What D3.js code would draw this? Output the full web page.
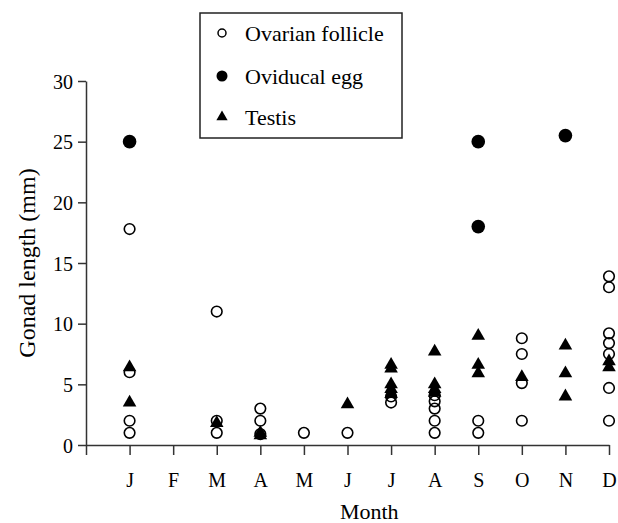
<!DOCTYPE html>
<html>
<head>
<meta charset="utf-8">
<script src="https://cdn.jsdelivr.net/npm/d3@7"></script>
<style>
  html, body { margin: 0; padding: 0; background: #fff; }
  svg { display: block; }
  text { font-family: "Liberation Serif", "Times New Roman", serif; fill: #000; }
</style>
</head>
<body>
<svg id="chart" width="618" height="523"></svg>
<script>
// Month index (1 = January ... 12 = December) and gonad length in mm
const monthLabels = ["J", "F", "M", "A", "M", "J", "J", "A", "S", "O", "N", "D"];
const yTicks = [0, 5, 10, 15, 20, 25, 30];

const follicleMonth = [1, 1, 1, 1, 3, 3, 3, 4, 4, 4, 5, 6, 7, 7, 8, 8, 8, 8, 8, 9, 9, 10, 10, 10, 10, 12, 12, 12, 12, 12, 12, 12];
const follicleLen   = [17.8, 6.0, 2.0, 1.0, 11.0, 2.0, 1.0, 3.0, 2.0, 0.9, 1.0, 1.0, 4.0, 3.5, 4.1, 3.6, 3.0, 2.0, 1.0, 2.0, 1.0, 8.8, 7.5, 5.1, 2.0, 13.9, 13.0, 9.2, 8.4, 7.5, 4.7, 2.0];

const eggMonth = [1, 9, 9, 11];
const eggLen   = [25.0, 25.0, 18.0, 25.5];

const testisMonth = [1, 1, 3, 4, 4, 6, 7, 7, 7, 7, 7, 8, 8, 8, 8, 9, 9, 9, 10, 11, 11, 11, 12, 12];
const testisLen   = [6.4, 3.5, 1.8, 1.0, 0.8, 3.35, 6.6, 6.3, 5.0, 4.6, 4.2, 7.7, 5.0, 4.6, 4.3, 9.0, 6.6, 5.9, 5.6, 8.2, 5.9, 4.0, 6.9, 6.4];

const legendLabels = ["Ovarian follicle", "Oviducal egg", "Testis"];

const svg = d3.select("#chart");

const x = d3.scaleLinear().domain([0, 12]).range([86, 609]);
const y = d3.scaleLinear().domain([0, 30]).range([445, 81]);

// Axes
const yAxis = d3.axisLeft(y).tickValues(yTicks).tickSize(8).tickPadding(5).tickSizeOuter(0);
const gy = svg.append("g").attr("transform", `translate(${x(0)},0)`).call(yAxis);
gy.selectAll("text").style("font-size", "20px").attr("dy", "0.35em");

const xAxis = d3.axisBottom(x)
  .tickValues(d3.range(0, 13))
  .tickSize(10)
  .tickPadding(18)
  .tickSizeOuter(0)
  .tickFormat(d => d === 0 ? "" : monthLabels[d - 1]);
const gx = svg.append("g").attr("transform", `translate(0,${y(0)})`).call(xAxis);
gx.selectAll("text").style("font-size", "20px");

svg.selectAll(".domain, .tick line").attr("stroke", "#333").attr("stroke-width", 1.5);
svg.selectAll(".tick text").attr("fill", "#000");

// Axis titles
svg.append("text")
  .attr("x", x(6.5)).attr("y", 519)
  .attr("text-anchor", "middle")
  .attr("fill", "#000")
  .style("font-size", "22px")
  .text("Month");

svg.append("text")
  .attr("transform", `translate(35,${y(15)}) rotate(-90)`)
  .attr("text-anchor", "middle")
  .attr("fill", "#000")
  .style("font-size", "24px")
  .text("Gonad length (mm)");

// Marks
const tri = d3.symbol().type(d3.symbolTriangle);
const plot = svg.append("g");

plot.selectAll("circle.follicle")
  .data(d3.zip(follicleMonth, follicleLen))
  .join("circle")
  .attr("class", "follicle")
  .attr("cx", d => x(d[0]))
  .attr("cy", d => y(d[1]))
  .attr("r", 5.3)
  .attr("fill", "none")
  .attr("stroke", "#000")
  .attr("stroke-width", 1.6);

plot.selectAll("circle.egg")
  .data(d3.zip(eggMonth, eggLen))
  .join("circle")
  .attr("class", "egg")
  .attr("cx", d => x(d[0]))
  .attr("cy", d => y(d[1]))
  .attr("r", 6.8)
  .attr("fill", "#000");

plot.selectAll("path.testis")
  .data(d3.zip(testisMonth, testisLen))
  .join("path")
  .attr("class", "testis")
  .attr("d", tri.size(80)())
  .attr("transform", d => `translate(${x(d[0])},${y(d[1])})`)
  .attr("fill", "#000");

// Legend
const lg = svg.append("g");
lg.append("rect")
  .attr("x", 200).attr("y", 13).attr("width", 202).attr("height", 125)
  .attr("fill", "#fff").attr("stroke", "#222").attr("stroke-width", 1.5);

const rowsY = [33, 76, 117];
lg.append("circle").attr("cx", 222).attr("cy", rowsY[0]).attr("r", 4)
  .attr("fill", "none").attr("stroke", "#000").attr("stroke-width", 1.5);
lg.append("circle").attr("cx", 222).attr("cy", rowsY[1]).attr("r", 5.5).attr("fill", "#000");
lg.append("path").attr("d", tri.size(55)()).attr("transform", `translate(222,${rowsY[2]})`).attr("fill", "#000");

lg.selectAll("text.leg")
  .data(legendLabels)
  .join("text")
  .attr("class", "leg")
  .attr("x", 245)
  .attr("y", (d, i) => rowsY[i])
  .attr("dy", "0.35em")
  .attr("fill", "#000")
  .style("font-size", "22px")
  .text(d => d);
</script>
</body>
</html>
